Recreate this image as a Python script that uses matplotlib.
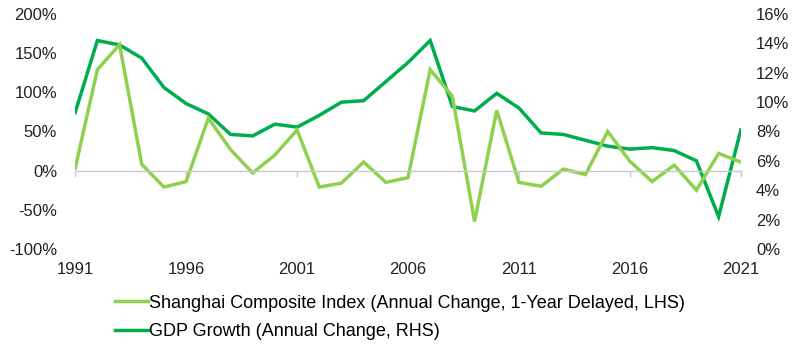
import numpy as np
from matplotlib import pyplot as plt

plt.rc('font', family='Liberation Sans', size=12)

years = list(range(1991, 2022))
shanghai = [3, 129, 161, 8, -21, -14, 67, 27, -3, 20, 52, -21, -16, 11, -15, -9,
            129, 95, -65, 77, -15, -20, 2, -5, 50, 12, -14, 7, -25, 22, 11]
gdp = [9.3, 14.2, 13.9, 13.0, 11.0, 9.9, 9.2, 7.8, 7.7, 8.5, 8.3, 9.1, 10.0, 10.1,
       11.4, 12.7, 14.2, 9.7, 9.4, 10.6, 9.6, 7.9, 7.8, 7.4, 7.0, 6.8, 6.9, 6.7,
       6.0, 2.2, 8.1]
xticks = [1991, 1996, 2001, 2006, 2011, 2016, 2021]
left_ticks = [-100, -50, 0, 50, 100, 150, 200]
right_ticks = [0, 2, 4, 6, 8, 10, 12, 14, 16]

light = '#8fd14f'
dark = '#00ad4e'

fig = plt.figure(figsize=(8, 3.53), dpi=100)
ax = fig.add_axes([0.094, 0.295, 0.832, 0.665])
bx = ax.twinx()

l1, = ax.plot(years, shanghai, color=light, linewidth=2.5, solid_joinstyle='miter',
              label='Shanghai Composite Index (Annual Change, 1-Year Delayed, LHS)')
l2, = bx.plot(years, gdp, color=dark, linewidth=2.5, solid_joinstyle='miter',
              label='GDP Growth (Annual Change, RHS)')
ax.set_zorder(bx.get_zorder() + 1)
ax.patch.set_visible(False)

ax.set_xlim(1991, 2021)
ax.set_ylim(-100, 200)
bx.set_ylim(0, 16)

ax.set_yticks(left_ticks)
ax.set_yticklabels([f'{v}%' for v in left_ticks])
bx.set_yticks(right_ticks)
bx.set_yticklabels([f'{v}%' for v in right_ticks])
ax.tick_params(axis='y', length=0, pad=13, labelsize=12, colors='#222222')
bx.tick_params(axis='y', length=0, pad=11, labelsize=12, colors='#222222')

for s in ['top', 'left', 'right']:
    ax.spines[s].set_visible(False)
    bx.spines[s].set_visible(False)
bx.spines['bottom'].set_visible(False)
ax.spines['bottom'].set_position(('data', 0))
ax.spines['bottom'].set_color('#c8c8c8')
ax.spines['bottom'].set_linewidth(1)
ax.set_xticks(xticks)
ax.set_xticklabels([str(y) for y in xticks])
ax.tick_params(axis='x', length=4, width=1, color='#c8c8c8', pad=62,
               labelsize=12, labelcolor='#222222')

fig.legend([l1, l2], [l1.get_label(), l2.get_label()], loc='upper left',
           bbox_to_anchor=(0.144, 0.165), frameon=False, handlelength=1.83,
           handletextpad=0.05, labelspacing=0.62, fontsize=13, borderpad=0,
           borderaxespad=0)

fig.savefig('out.png', dpi=100)
